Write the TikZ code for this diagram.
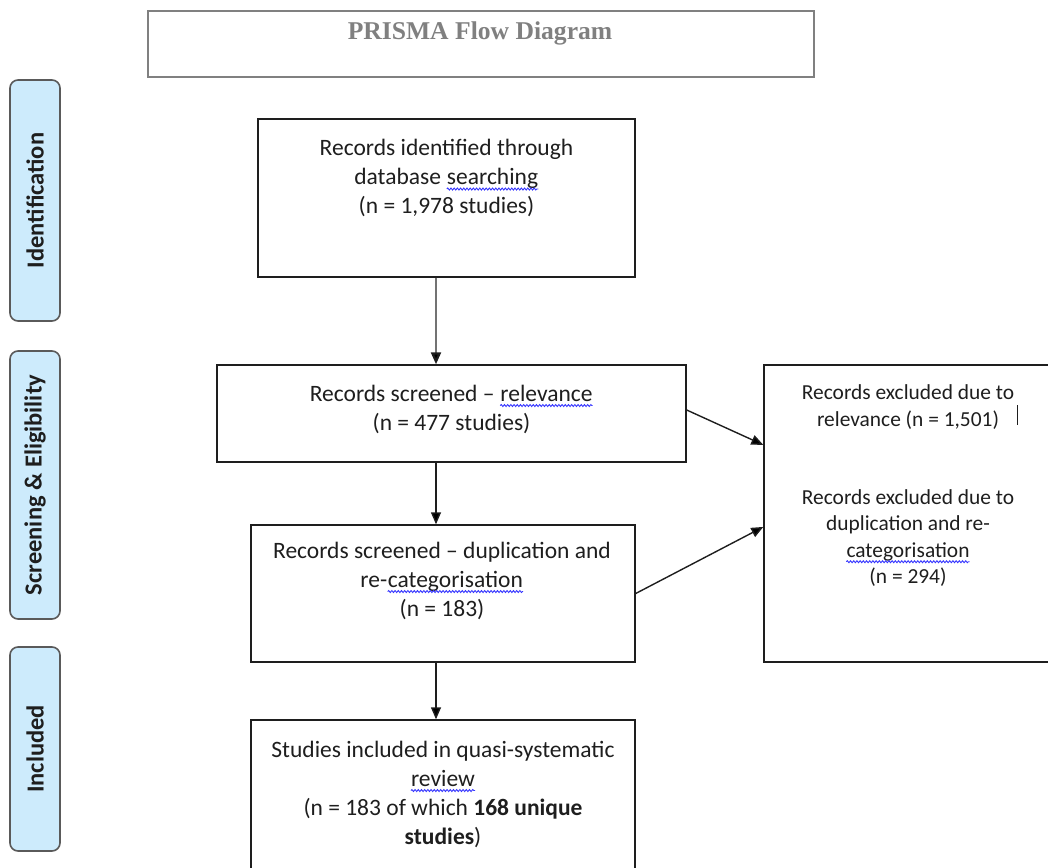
\documentclass[tikz,border=0pt]{standalone}
\usepackage{fontspec}
\setmainfont{Carlito}
\newfontfamily\headfont{Liberation Serif}
\usetikzlibrary{arrows.meta}
\usetikzlibrary{calc}
\usetikzlibrary{decorations.pathmorphing}

\definecolor{phasefill}{HTML}{CDEBFC}
\definecolor{phaseline}{HTML}{5A5A5A}
\definecolor{headgray}{HTML}{808080}
\definecolor{inkdark}{HTML}{1E1E1E}
\definecolor{spellblue}{HTML}{3535FF}

% blue wavy line under the flagged words
\newcommand{\spellmark}[1]{\tikz[baseline=(sw.base)]{\node[inner sep=0pt,anchor=base] (sw) {#1};
  \draw[spellblue,line width=0.9pt,decorate,decoration={snake,amplitude=1pt,segment length=3.2pt}]
    ([yshift=-4.5pt]sw.base west) -- ([yshift=-4.5pt]sw.base east);}}

\tikzset{
  flowbox/.style={draw=inkdark,line width=1.4pt,inner sep=0pt},
  flowtxt/.style={align=center,inner sep=0pt,text=inkdark,font=\fontsize{23.5}{29}\selectfont},
  smalltxt/.style={align=center,inner sep=0pt,text=inkdark,font=\fontsize{21.4}{26.5}\selectfont},
  phase/.style={rotate=90,draw=phaseline,fill=phasefill,line width=1.6pt,rounded corners=8pt,
    minimum height=50pt,inner sep=0pt,text=inkdark,font=\bfseries\fontsize{24.5}{29}\selectfont},
  flowarrow/.style={-{Triangle[length=12pt,width=10pt]},line width=1.4pt,draw=inkdark},
}

\begin{document}
\begin{tikzpicture}[x=1pt,y=-1pt]
\useasboundingbox (0,0) rectangle (1048,867);

% title
\node[draw=headgray,line width=1.2pt,minimum width=666pt,minimum height=66pt,inner sep=0pt] (head) at (481,44) {};
\node[text=headgray,inner sep=0pt,font=\headfont\bfseries\fontsize{25.6}{30}\selectfont] (headtxt) at (480,33) {PRISMA Flow Diagram};

% phases on the left
\node[phase,minimum width=241pt] (ident) at (35,200.5) {Identification};
\node[phase,minimum width=268pt] (screen) at (35,485) {Screening \& Eligibility};
\node[phase,minimum width=204pt] (includ) at (35,749) {Included};

% boxes
\node[flowbox,minimum width=377pt,minimum height=158pt] (records) at (446.5,198) {};
\node[flowtxt] (recordstxt) at (446.5,178) {Records identified through\\database \spellmark{searching}\\(n = 1,978 studies)};

\node[flowbox,minimum width=469pt,minimum height=97pt] (screened) at (451.5,413.5) {};
\node[flowtxt] (screenedtxt) at (451.5,409) {Records screened -- \spellmark{relevance}\\(n = 477 studies)};

\node[flowbox,minimum width=384pt,minimum height=137pt] (dupl) at (443,593.5) {};
\node[flowtxt] (dupltxt) at (442,580.5) {Records screened -- duplication and\\re-\spellmark{categorisation}\\(n = 183)};

\node[flowbox,minimum width=384pt,minimum height=160pt] (incl) at (443,800) {};
\node[flowtxt] (incltxt) at (443,794) {Studies included in quasi-systematic\\\spellmark{review}\\(n = 183 of which \textbf{168 unique}\\\textbf{studies})};

\node[flowbox,minimum width=288pt,minimum height=297pt] (excl) at (908,513.5) {};
\node[smalltxt] (excltxta) at (908,407) {Records excluded due to\\relevance (n = 1,501)};
\node[smalltxt] (excltxtb) at (908,538) {Records excluded due to\\duplication and re-\\\spellmark{categorisation}\\(n = 294)};
\draw[line width=1pt,inkdark] (1017,405) -- (1017,425);

% arrows
\draw[flowarrow,line width=2.2pt,draw=black!55,-{Triangle[length=12pt,width=10pt,color=inkdark]}] ([xshift=-10.5pt]records.south) -- ([xshift=-10.5pt]records.south |- screened.north);
\draw[flowarrow] ([xshift=-15.5pt]screened.south) -- ([xshift=-15.5pt]screened.south |- dupl.north);
\draw[flowarrow] ([xshift=-7pt]dupl.south) -- ([xshift=-7pt]dupl.south |- incl.north);
\draw[flowarrow] ([yshift=3.5pt]screened.east) -- ($(excl.north west)!0.27!(excl.south west)$);
\draw[flowarrow] (dupl.east) -- ($(excl.north west)!0.545!(excl.south west)$);
\end{tikzpicture}
\end{document}
